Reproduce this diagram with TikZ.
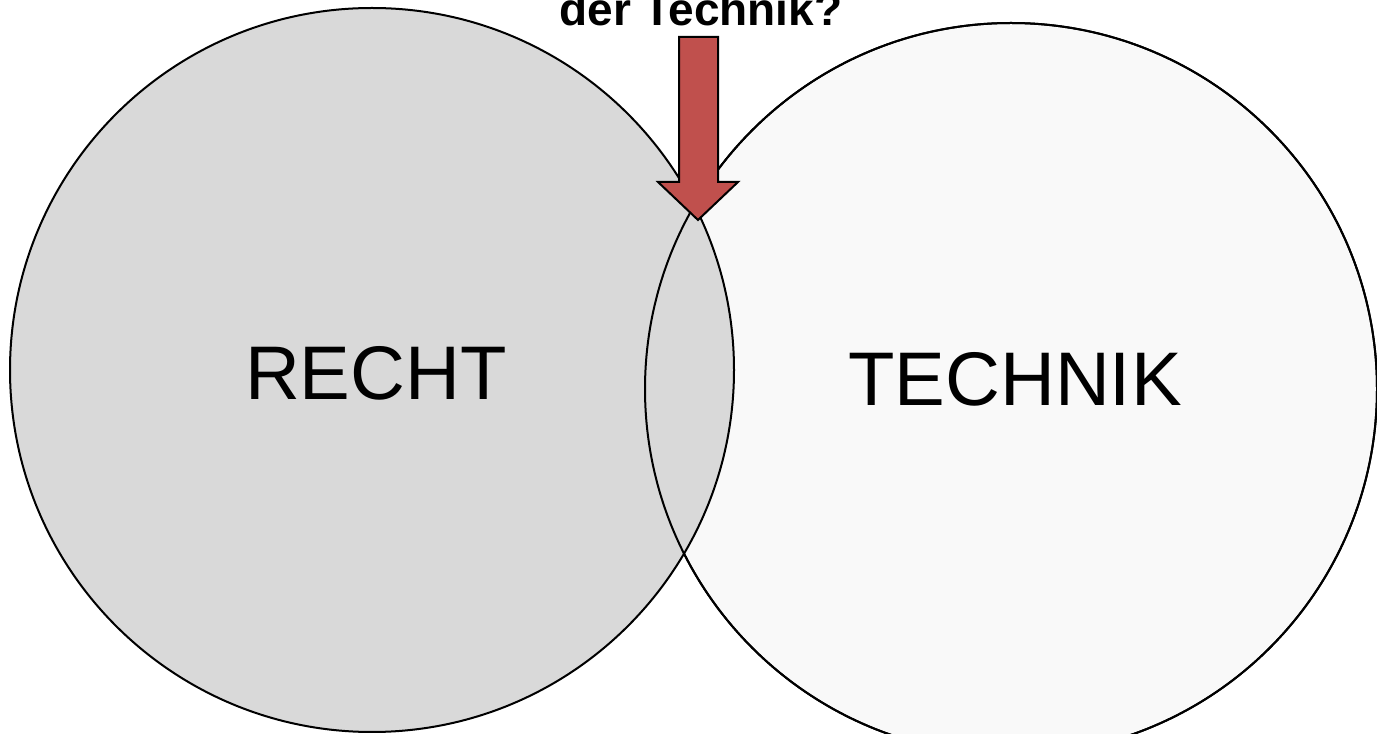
\documentclass[tikz,border=0pt]{standalone}
\usepackage{fontspec}
\setmainfont{Liberation Sans}
\definecolor{leftfill}{HTML}{D9D9D9}
\definecolor{rightfill}{HTML}{F9F9F9}
\definecolor{arrowred}{HTML}{C0504D}
\tikzset{
  venn/.style={circle, inner sep=0pt, line width=2pt, draw=black},
  biglabel/.style={font=\fontsize{76}{80}\selectfont, anchor=base, inner sep=0pt},
  toplabel/.style={font=\bfseries\fontsize{46}{50}\selectfont, anchor=base, inner sep=0pt},
  blockarrow/.style={fill=arrowred, draw=black, line width=2pt, line join=miter}
}
\begin{document}
\begin{tikzpicture}[x=1pt,y=1pt]
\useasboundingbox (0,0) rectangle (1377,734);
\clip (0,0) rectangle (1377,734);
\fill[white] (0,0) rectangle (1377,734);
\node[venn, fill=rightfill, minimum size=732pt] (technik) at (1011,345) {};
\node[venn, fill=leftfill, minimum size=724pt] (recht) at (372,364) {};
\draw[line width=2pt] (technik.center) circle[radius=366];
\node[biglabel] (rechtlabel) at (376,334) {RECHT};
\node[biglabel] (techniklabel) at (1015,328) {TECHNIK};
\node[toplabel] (question) at (701,708) {der Technik?};
\coordinate (tip) at (698,514);
\draw[blockarrow] (679,697) -- (718,697) -- (718,552) -- (738,552) -- (tip) -- (658,552) -- (679,552) -- cycle;
\end{tikzpicture}
\end{document}
